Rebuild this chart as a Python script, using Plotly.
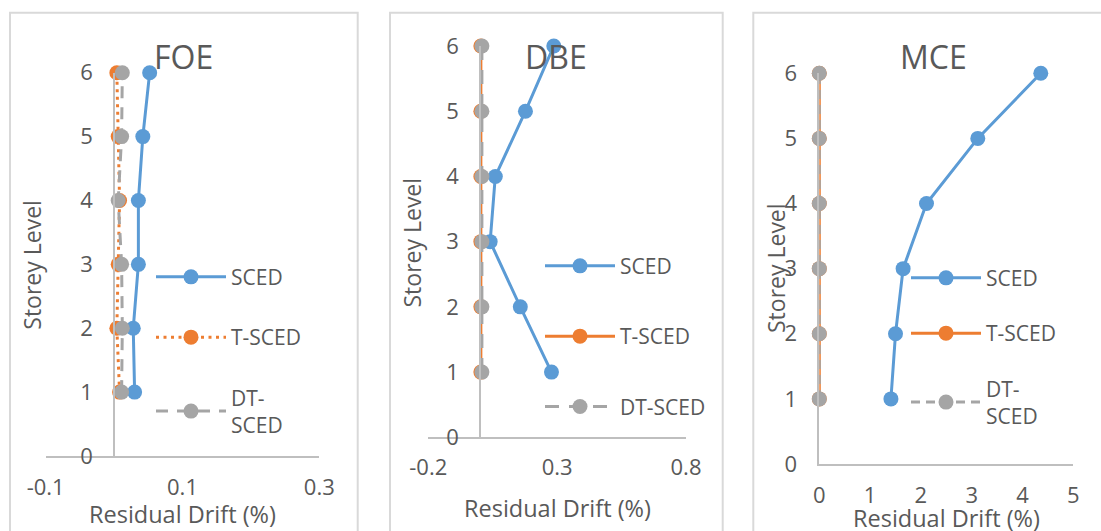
import plotly.graph_objects as go

W, H = 1101, 531

storeys = [1, 2, 3, 4, 5, 6]
series_names = ["SCED", "T-SCED", "DT-SCED"]

foe_sced = [0.030, 0.028, 0.0355, 0.0355, 0.042, 0.052]
foe_tsced = [0.008, 0.004, 0.006, 0.008, 0.006, 0.004]
foe_dtsced = [0.011, 0.012, 0.011, 0.006, 0.011, 0.012]

dbe_sced = [0.278, 0.157, 0.040, 0.060, 0.177, 0.287]
dbe_tsced = [0.004, 0.004, 0.004, 0.004, 0.004, 0.004]
dbe_dtsced = [0.008, 0.008, 0.008, 0.008, 0.008, 0.008]

mce_sced = [1.41, 1.50, 1.65, 2.11, 3.12, 4.36]
mce_tsced = [0, 0, 0, 0, 0, 0]
mce_dtsced = [0, 0, 0, 0, 0, 0]

panel_titles = ["FOE", "DBE", "MCE"]
x_title = "Residual Drift (%)"
y_title = "Storey Level"

BLUE, ORANGE, GRAY = "#5b9bd5", "#ed7d31", "#a5a5a5"
TXT = "#595959"
FONT = "Open Sans"


def px(p):
    return p / W


def py(p):
    return 1 - p / H


fig = go.Figure()


def add(xs, name, color, dash, xa, ya, leg):
    fig.add_trace(go.Scatter(
        x=xs, y=storeys, name=name, mode="lines+markers",
        line=dict(color=color, width=3, dash=dash),
        marker=dict(color=color, size=15),
        xaxis=xa, yaxis=ya, legend=leg, legendgroup=leg + name,
        cliponaxis=False,
    ))


add(foe_sced, "SCED", BLUE, "solid", "x", "y", "legend")
add(foe_tsced, "T-SCED", ORANGE, "3px,4.5px", "x", "y", "legend")
add(foe_dtsced, "DT-<br>SCED", GRAY, "12px,9px", "x", "y", "legend")

add(dbe_sced, "SCED", BLUE, "solid", "x2", "y2", "legend2")
add(dbe_tsced, "T-SCED", ORANGE, "solid", "x2", "y2", "legend2")
add(dbe_dtsced, "DT-SCED", GRAY, "14px,10px", "x2", "y2", "legend2")

add(mce_sced, "SCED", BLUE, "solid", "x3", "y3", "legend3")
add(mce_tsced, "T-SCED", ORANGE, "solid", "x3", "y3", "legend3")
add(mce_dtsced, "DT-<br>SCED", GRAY, "9px,6px", "x3", "y3", "legend3")

axis_common = dict(
    showline=True, linecolor="#bfbfbf", linewidth=1.5, showgrid=False,
    zeroline=False, ticks="", tickfont=dict(family=FONT, size=22, color=TXT),
    fixedrange=True,
)

fig.update_layout(
    width=W, height=H, margin=dict(l=0, r=0, t=0, b=0, autoexpand=False),
    paper_bgcolor="white", plot_bgcolor="rgba(0,0,0,0)",
    font=dict(family=FONT, color=TXT),
    xaxis=dict(domain=[px(45.7), px(319.3)], range=[-0.1, 0.3],
               tickvals=[-0.1, 0.1, 0.3], ticktext=["-0.1", "0.1", "0.3"],
               anchor="y", ticklabelstandoff=11, **axis_common),
    yaxis=dict(domain=[py(456), py(72.7)], range=[0, 6], dtick=1,
               anchor="free", position=px(114.1), ticklabelstandoff=16,
               **axis_common),
    xaxis2=dict(domain=[px(428.3), px(686)], range=[-0.2, 0.8],
                tickvals=[-0.2, 0.3, 0.8], ticktext=["-0.2", "0.3", "0.8"],
                anchor="y2", ticklabelstandoff=10, **axis_common),
    yaxis2=dict(domain=[py(437.3), py(46)], range=[0, 6], dtick=1,
                anchor="free", position=px(479.9), ticklabelstandoff=16,
                **axis_common),
    xaxis3=dict(domain=[px(819.3), px(1073.3)], range=[0, 5], dtick=1,
                anchor="y3", ticklabelstandoff=11, **axis_common),
    yaxis3=dict(domain=[py(464), py(73.3)], range=[0, 6], dtick=1,
                anchor="x3", ticklabelstandoff=16, **axis_common),
    showlegend=True,
)

leg_common = dict(font=dict(family=FONT, size=21, color=TXT),
                  bgcolor="rgba(0,0,0,0)",
                  xanchor="left", yanchor="top", itemwidth=70)
fig.update_layout(
    legend=dict(x=px(151), y=py(256.7), tracegroupgap=30, **leg_common),
    legend2=dict(x=px(540), y=py(245.7), tracegroupgap=40, **leg_common),
    legend3=dict(x=px(906), y=py(257.7), tracegroupgap=25, **leg_common),
)

# panel frames
for x0, x1 in [(10, 357.7), (390, 722.7), (753.3, 1115)]:
    fig.add_shape(type="rect", xref="paper", yref="paper",
                  x0=px(x0), x1=px(x1), y0=-0.1, y1=py(12.7),
                  line=dict(color="#d9d9d9", width=2), layer="below")

# titles and axis titles
for t, (cx, cy) in zip(panel_titles, [(183.3, 56.7), (555.7, 56.7), (933.3, 56.7)]):
    fig.add_annotation(text=t, x=px(cx), y=py(cy), xref="paper", yref="paper",
                       showarrow=False, xanchor="center", yanchor="middle",
                       font=dict(family=FONT, size=32, color=TXT))
for cx, cy in [(182.5, 514), (557.5, 508.3), (946.7, 518.3)]:
    fig.add_annotation(text=x_title, x=px(cx), y=py(cy), xref="paper", yref="paper",
                       showarrow=False, xanchor="center", yanchor="middle",
                       font=dict(family=FONT, size=23.5, color=TXT))
for cx, cy in [(31.7, 265), (411, 242.5), (776.7, 268.3)]:
    fig.add_annotation(text=y_title, x=px(cx), y=py(cy), xref="paper", yref="paper",
                       showarrow=False, xanchor="center", yanchor="middle",
                       textangle=-90,
                       font=dict(family=FONT, size=23, color=TXT))

fig.write_html("out.html")
